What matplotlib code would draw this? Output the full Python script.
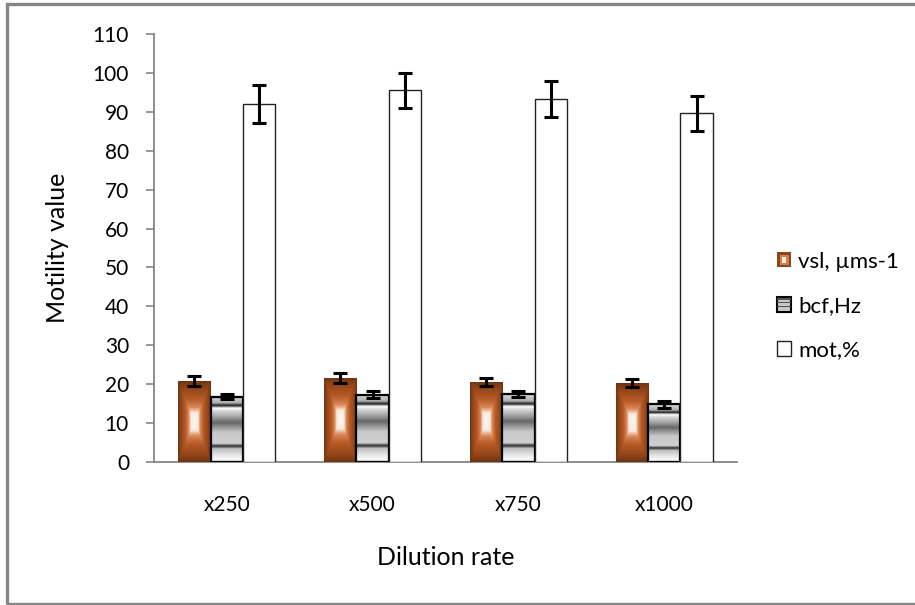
import numpy as np
import matplotlib
matplotlib.use("Agg")
import matplotlib.pyplot as plt
from matplotlib.colors import LinearSegmentedColormap
from matplotlib.patches import Rectangle, Patch
from matplotlib.legend_handler import HandlerBase

categories = ["x250", "x500", "x750", "x1000"]
vsl = [20.8, 21.6, 20.6, 20.3]
vsl_err = [1.2, 1.2, 1.0, 1.1]
bcf = [16.8, 17.3, 17.4, 14.9]
bcf_err = [0.7, 0.9, 0.8, 0.9]
mot = [92.0, 95.5, 93.2, 89.6]
mot_err = [4.8, 4.6, 4.6, 4.5]
series_names = ["vsl, \u00b5ms-1", "bcf,Hz", "mot,%"]

plt.rcParams['font.family'] = ['Lato', 'DejaVu Sans']
FS = 15
GRAY = '#868686'

# brown "from centre" gradient and chrome stripes
brown_cmap = LinearSegmentedColormap.from_list("brown", [
    (0.0, '#fbf6f2'), (0.22, '#f7ebe0'), (0.27, '#eec0a0'), (0.36, '#d88656'),
    (0.55, '#b85a28'), (0.8, '#97481a'), (1.0, '#723410')])
chrome_cmap = LinearSegmentedColormap.from_list("chrome", [
    (0.0, '#e8e8e8'), (0.05, '#f8f8f8'), (0.2, '#c0c0c0'), (0.24, '#282828'),
    (0.28, '#d0d0d0'), (0.45, '#c8c8c8'), (0.6, '#666666'), (0.68, '#a0a0a0'),
    (0.78, '#d8d8d8'), (0.82, '#ffffff'), (0.86, '#1a1a1a'), (0.9, '#b0b0b0'),
    (1.0, '#d8d8d8')])

n = 120
u = np.linspace(-1, 1, n)
uu, vv = np.meshgrid(u, u)
brown_img = np.maximum(np.abs(uu), np.abs(vv))
chrome_img = np.tile(np.linspace(0, 1, 200)[:, None], (1, 4))


def fill_gradient(ax, bars, img, cmap):
    for b in bars:
        x0, y0 = b.get_x(), b.get_y()
        w, h = b.get_width(), b.get_height()
        im = ax.imshow(img, cmap=cmap, vmin=0, vmax=1, extent=[x0, x0 + w, y0 + h, y0],
                       aspect='auto', interpolation='bilinear', zorder=b.get_zorder() - 0.1)
        im.set_clip_path(b)


class GradHandler(HandlerBase):
    def __init__(self, kind):
        super().__init__()
        self.kind = kind

    def create_artists(self, legend, orig_handle, xdescent, ydescent, width, height, fontsize, trans):
        x0, y0 = -xdescent, -ydescent
        arts = []
        if self.kind == 'vsl':
            arts.append(Rectangle((x0, y0), width, height, fc='#8e4418', ec='none'))
            arts.append(Rectangle((x0 + width * 0.2, y0 + height * 0.15), width * 0.6, height * 0.7, fc='#d28050', ec='none'))
            arts.append(Rectangle((x0 + width * 0.38, y0 + height * 0.3), width * 0.24, height * 0.4, fc='#fbf0e8', ec='none'))
        elif self.kind == 'bcf':
            arts.append(Rectangle((x0, y0), width, height, fc='#c8c8c8', ec='black', lw=1.5))
            for f in [0.3, 0.55, 0.8]:
                arts.append(Rectangle((x0, y0 + height * f), width, height * 0.1, fc='#505050', ec='none'))
        else:
            arts.append(Rectangle((x0, y0), width, height, fc='white', ec='#222222', lw=1.0))
        for a in arts:
            a.set_transform(trans)
        return arts


fig = plt.figure(figsize=(9.15, 6.05), dpi=100)
ax = fig.add_axes([154 / 915, 1 - 462 / 605, 583 / 915, 428 / 605])

x = np.arange(len(categories))
w = 1 / 4.5
err_kw = dict(ecolor='black', elinewidth=2.2, capsize=4.8, capthick=2.2)

b_vsl = ax.bar(x - w, vsl, w, color='none', edgecolor='none', zorder=3)
b_bcf = ax.bar(x, bcf, w, color='none', edgecolor='black', linewidth=1.6, zorder=3)
b_mot = ax.bar(x + w, mot, w, color='white', edgecolor='#222222', linewidth=1.0, zorder=3)
fill_gradient(ax, b_vsl, brown_img, brown_cmap)
fill_gradient(ax, b_bcf, chrome_img, chrome_cmap)

ax.errorbar(x - w, vsl, yerr=vsl_err, fmt='none', zorder=5, **err_kw)
ax.errorbar(x, bcf, yerr=bcf_err, fmt='none', zorder=5, **err_kw)
ax.errorbar(x + w, mot, yerr=mot_err, fmt='none', zorder=5, **err_kw)

ax.set_xlim(-0.5, len(categories) - 0.5)
ax.set_ylim(0, 110)
ax.set_yticks(range(0, 111, 10))
ax.set_xticks(x)
ax.set_xticklabels(categories)
ax.tick_params(axis='y', direction='out', length=6, width=1.2, color=GRAY, pad=12, labelsize=FS)
ax.tick_params(axis='x', length=0, pad=24, labelsize=FS)
for s in ['top', 'right']:
    ax.spines[s].set_visible(False)
for s in ['left', 'bottom']:
    ax.spines[s].set_color(GRAY)
    ax.spines[s].set_linewidth(1.3)

ax.set_ylabel("Motility value", fontsize=18)
ax.yaxis.set_label_coords(-0.166, 0.5)
ax.yaxis.label.set_va('center')
ax.set_xlabel("Dilution rate", fontsize=18)
ax.xaxis.set_label_coords(0.5, -0.222)
ax.xaxis.label.set_va('center')

handles = [Patch(), Patch(), Patch()]
hmap = {handles[0]: GradHandler('vsl'), handles[1]: GradHandler('bcf'), handles[2]: GradHandler('mot')}
fig.legend(handles, series_names, handler_map=hmap, loc='center left',
           bbox_to_anchor=(777 / 915, 1 - 306 / 605), bbox_transform=fig.transFigure,
           frameon=False, fontsize=16, borderpad=0, borderaxespad=0,
           handlelength=0.65, handleheight=0.65, handletextpad=0.3, labelspacing=1.1)

fig.patches.append(Rectangle((7 / 915, 1 / 605), 910 / 915, 600 / 605, transform=fig.transFigure,
                             fill=False, edgecolor=GRAY, linewidth=2.4))

fig.savefig("out.png", dpi=100)
